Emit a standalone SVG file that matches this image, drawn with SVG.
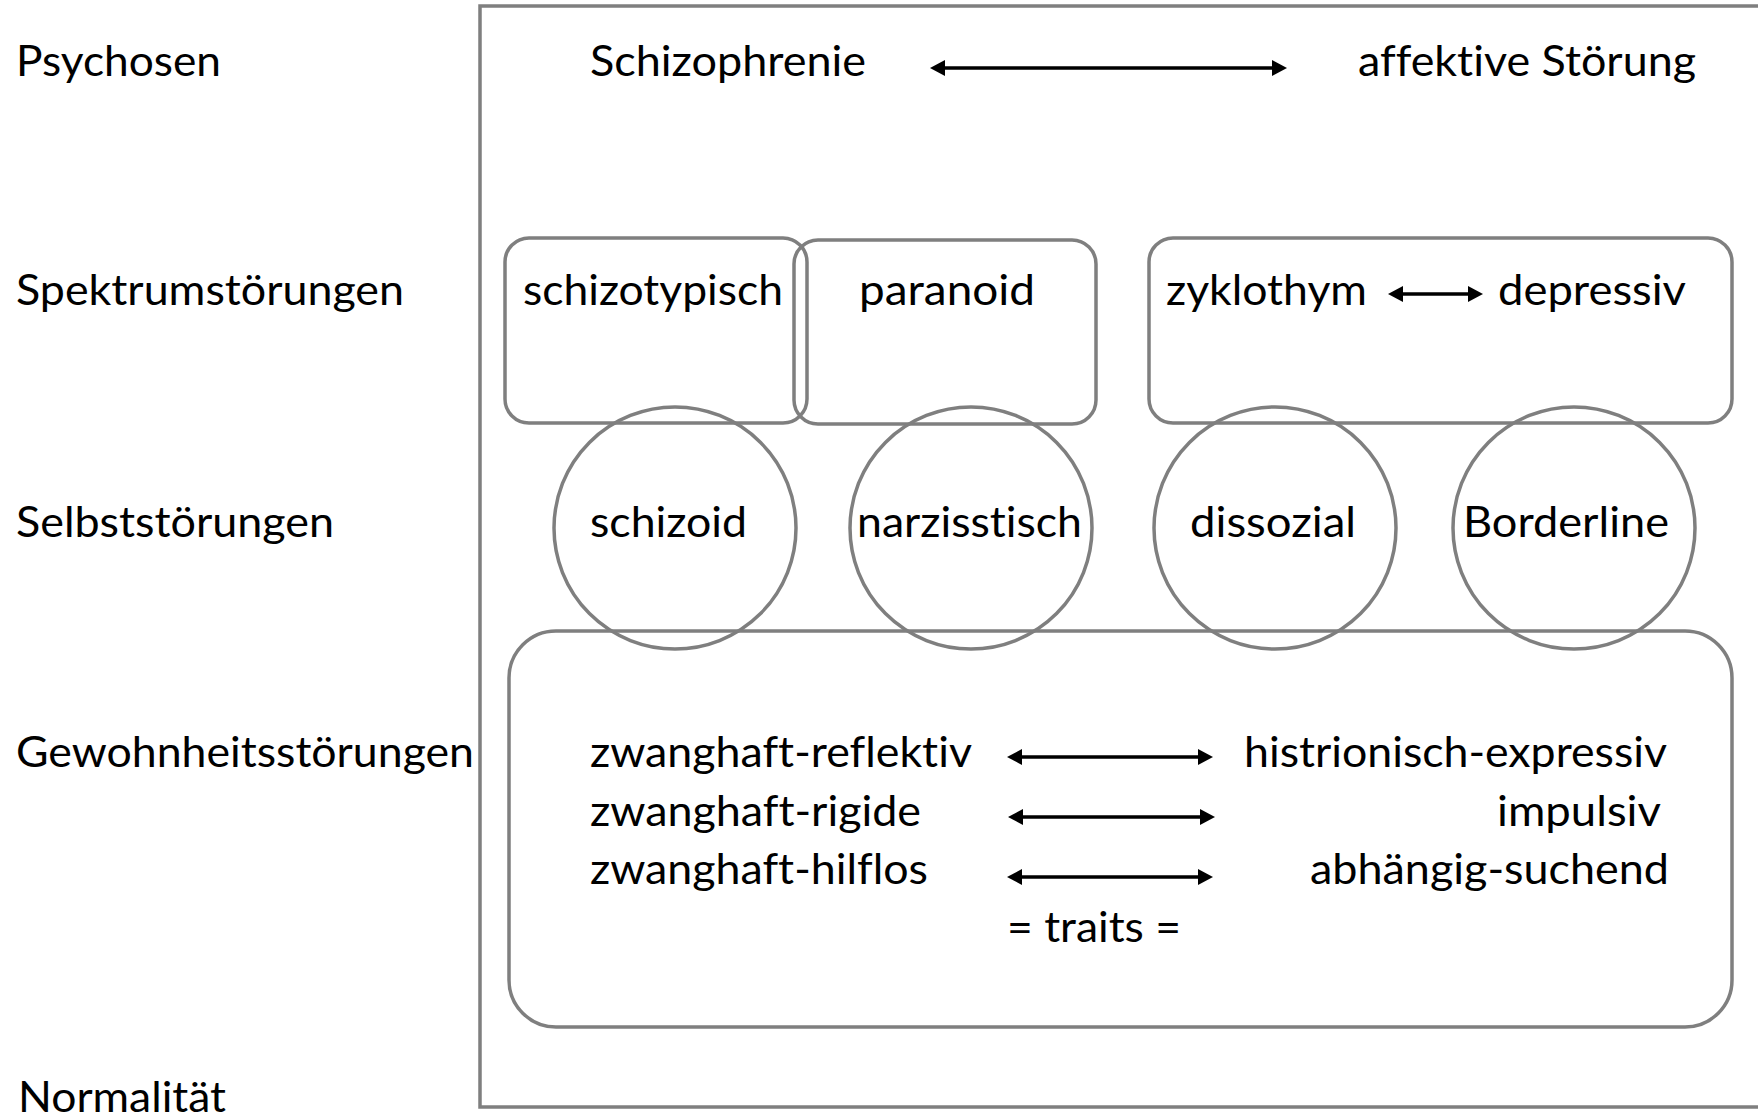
<svg xmlns="http://www.w3.org/2000/svg" width="1758" height="1119" viewBox="0 0 1758 1119">
<style>
  .t { font-family: Lato, "Open Sans", "Liberation Sans", sans-serif; font-size: 42px; fill: #000; font-variant-ligatures: none; font-feature-settings: "liga" 0, "clig" 0; }
  .shape { fill: none; stroke: #7f7f7f; stroke-width: 3.5; }
  .arrow { stroke: #000; stroke-width: 3.5; fill: none; marker-start: url(#head); marker-end: url(#head); }
</style>
<defs>
  <marker id="head" viewBox="0 0 15 16" markerWidth="15" markerHeight="16" markerUnits="userSpaceOnUse" refX="3" refY="8" orient="auto-start-reverse">
    <path d="M0,0 L15,8 L0,16 z" fill="#000"/>
  </marker>
</defs>
<rect width="1758" height="1119" fill="#fff"/>

<g id="levels">
  <text class="t" x="16" y="76" textLength="205" lengthAdjust="spacingAndGlyphs">Psychosen</text>
  <text class="t" x="16" y="305" textLength="388" lengthAdjust="spacingAndGlyphs">Spektrumstörungen</text>
  <text class="t" x="16" y="537" textLength="318" lengthAdjust="spacingAndGlyphs">Selbststörungen</text>
  <text class="t" x="16" y="767" textLength="458" lengthAdjust="spacingAndGlyphs">Gewohnheitsstörungen</text>
  <text class="t" x="18" y="1112" textLength="208" lengthAdjust="spacingAndGlyphs">Normalität</text>
</g>

<g id="frame">
  <rect class="shape" x="480" y="6" width="1320" height="1101"/>
</g>

<g id="psychosen">
  <text class="t" x="590" y="76" textLength="276" lengthAdjust="spacingAndGlyphs">Schizophrenie</text>
  <text class="t" x="1358" y="76" textLength="338" lengthAdjust="spacingAndGlyphs">affektive Störung</text>
</g>

<g id="schizotypisch">
  <rect class="shape" x="505" y="238" width="302" height="185" rx="24"/>
  <text class="t" x="523" y="305" textLength="260" lengthAdjust="spacingAndGlyphs">schizotypisch</text>
</g>
<g id="paranoid">
  <rect class="shape" x="794" y="240" width="302" height="184" rx="24"/>
  <text class="t" x="859" y="305" textLength="176" lengthAdjust="spacingAndGlyphs">paranoid</text>
</g>
<g id="affektiv-spektrum">
  <rect class="shape" x="1149" y="238" width="583" height="185" rx="24"/>
  <text class="t" x="1166" y="305" textLength="201" lengthAdjust="spacingAndGlyphs">zyklothym</text>
  <text class="t" x="1498" y="305" textLength="188" lengthAdjust="spacingAndGlyphs">depressiv</text>
</g>

<g id="schizoid">
  <circle class="shape" cx="675" cy="528" r="121"/>
  <text class="t" x="590" y="537" textLength="157" lengthAdjust="spacingAndGlyphs">schizoid</text>
</g>
<g id="narzisstisch">
  <circle class="shape" cx="971" cy="528" r="121"/>
  <text class="t" x="857" y="537" textLength="225" lengthAdjust="spacingAndGlyphs">narzisstisch</text>
</g>
<g id="dissozial">
  <circle class="shape" cx="1275" cy="528" r="121"/>
  <text class="t" x="1190" y="537" textLength="166" lengthAdjust="spacingAndGlyphs">dissozial</text>
</g>
<g id="borderline">
  <circle class="shape" cx="1574" cy="528" r="121"/>
  <text class="t" x="1463" y="537" textLength="206" lengthAdjust="spacingAndGlyphs">Borderline</text>
</g>

<g id="gewohnheit">
  <rect class="shape" x="509" y="631" width="1223" height="396" rx="47"/>
  <text class="t" x="590" y="767" textLength="382" lengthAdjust="spacingAndGlyphs">zwanghaft-reflektiv</text>
  <text class="t" x="590" y="826" textLength="331" lengthAdjust="spacingAndGlyphs">zwanghaft-rigide</text>
  <text class="t" x="590" y="884" textLength="338" lengthAdjust="spacingAndGlyphs">zwanghaft-hilflos</text>
  <text class="t" x="1007" y="942" textLength="174" lengthAdjust="spacingAndGlyphs">= traits =</text>
  <text class="t" x="1244" y="767" textLength="423" lengthAdjust="spacingAndGlyphs">histrionisch-expressiv</text>
  <text class="t" x="1497" y="826" textLength="164" lengthAdjust="spacingAndGlyphs">impulsiv</text>
  <text class="t" x="1310" y="884" textLength="359" lengthAdjust="spacingAndGlyphs">abhängig-suchend</text>
</g>

<g id="connectors">
  <line class="arrow" x1="942" y1="68" x2="1275" y2="68"/>
  <line class="arrow" x1="1400" y1="294" x2="1471" y2="294"/>
  <line class="arrow" x1="1019" y1="757" x2="1201" y2="757"/>
  <line class="arrow" x1="1020" y1="817" x2="1203" y2="817"/>
  <line class="arrow" x1="1019" y1="877" x2="1201" y2="877"/>
</g>
</svg>
